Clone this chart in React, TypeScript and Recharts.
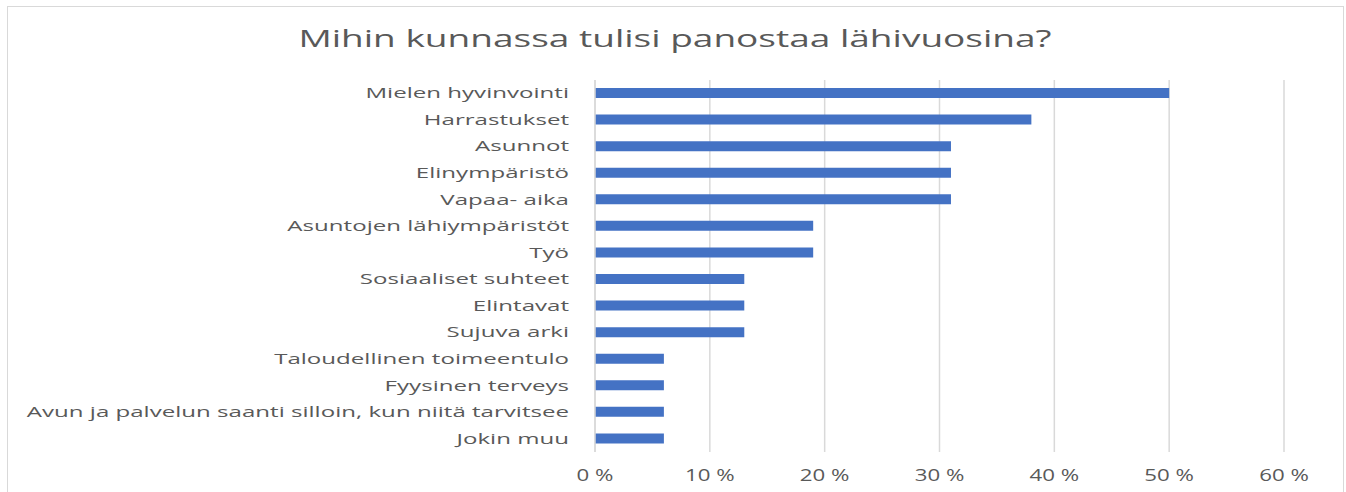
import React from 'react';
import { BarChart, Bar, XAxis, YAxis, CartesianGrid } from 'recharts';

const categories = [
  'Mielen hyvinvointi',
  'Harrastukset',
  'Asunnot',
  'Elinympäristö',
  'Vapaa- aika',
  'Asuntojen lähiympäristöt',
  'Työ',
  'Sosiaaliset suhteet',
  'Elintavat',
  'Sujuva arki',
  'Taloudellinen toimeentulo',
  'Fyysinen terveys',
  'Avun ja palvelun saanti silloin, kun niitä tarvitsee',
  'Jokin muu',
];

const shares = [50, 38, 31, 31, 31, 19, 19, 13, 13, 13, 6, 6, 6, 6];

const xTicks = [0, 10, 20, 30, 40, 50, 60];

const title = 'Mihin kunnassa tulisi panostaa lähivuosina?';

const data = categories.map((name, i) => ({ name, value: shares[i] }));

const font = '"Open Sans", sans-serif';
const textColor = '#595959';

// the source picture is stretched sideways, so the text is widened to match
const CategoryTick = (props: any) => {
  const { x, y, payload } = props;
  return (
    <text
      transform={`translate(${x},${y + 5}) scale(1.72,1)`}
      textAnchor="end"
      fill={textColor}
      fontSize={14}
      fontFamily={font}
    >
      {payload.value}
    </text>
  );
};

const PercentTick = (props: any) => {
  const { x, payload } = props;
  return (
    <text
      transform={`translate(${x},481) scale(1.35,1)`}
      textAnchor="middle"
      fill={textColor}
      fontSize={16.5}
      fontFamily={font}
    >
      {`${payload.value} %`}
    </text>
  );
};

const App: React.FC = () => {
  return (
    <div style={{ position: 'absolute', left: 0, top: 0, width: 1346, height: 492, background: '#fff', overflow: 'hidden' }}>
      <div
        style={{
          position: 'absolute',
          left: 7,
          top: 6,
          width: 1337,
          height: 500,
          border: '1.5px solid #d9d9d9',
          boxSizing: 'border-box',
        }}
      />
      <svg style={{ position: 'absolute', left: 0, top: 0 }} width={1346} height={70}>
        <text
          transform="translate(675,47) scale(1.61,1)"
          textAnchor="middle"
          fill={textColor}
          fontSize={23}
          fontFamily={font}
        >
          {title}
        </text>
      </svg>
      <div style={{ position: 'absolute', left: 0, top: 0 }}>
        <BarChart
          width={1346}
          height={492}
          data={data}
          layout="vertical"
          margin={{ top: 80, right: 62, bottom: 0, left: 0 }}
          barCategoryGap={0}
        >
          <CartesianGrid horizontal={false} stroke="#d9d9d9" strokeWidth={1.5} />
          <XAxis
            type="number"
            domain={[0, 60]}
            ticks={xTicks}
            axisLine={false}
            tickLine={false}
            height={40}
            tick={<PercentTick />}
          />
          <YAxis
            type="category"
            dataKey="name"
            width={595}
            axisLine={{ stroke: '#d9d9d9', strokeWidth: 1.5 }}
            tickLine={false}
            tickMargin={20}
            interval={0}
            tick={<CategoryTick />}
          />
          <Bar dataKey="value" fill="#4472C4" barSize={10} isAnimationActive={false} />
        </BarChart>
      </div>
    </div>
  );
};

export default App;
